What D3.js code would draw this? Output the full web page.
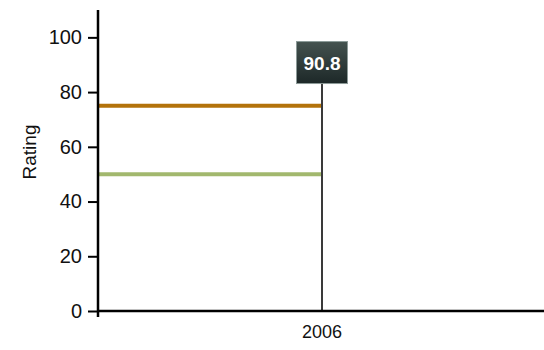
<!DOCTYPE html>
<html>
<head>
<meta charset="utf-8">
<script src="https://cdn.jsdelivr.net/npm/d3@7"></script>
<style>
  html, body { margin: 0; padding: 0; background: #fff; }
  svg { display: block; }
  svg text { font-family: "Liberation Sans", Arial, Helvetica, sans-serif; }
</style>
</head>
<body>
<svg id="chart" width="544" height="350"></svg>
<script>
// Chart data
const categories = ["2006"];
const ratingValues = [90.8];
const referenceLevels = [75, 50];
const referenceColors = ["#b3720a", "#a2b86e"];
const yTicks = [0, 20, 40, 60, 80, 100];
const yDomain = [0, 110];

const FONT = "Liberation Sans, Arial, Helvetica, sans-serif";
const svg = d3.select("#chart");
const margin = { left: 98, top: 10, right: -2, bottom: 39 };
const W = 544, H = 350;

const x = d3.scaleBand()
  .domain(categories)
  .range([margin.left, W - margin.right]);

const y = d3.scaleLinear()
  .domain(yDomain)
  .range([H - margin.bottom, margin.top]);

// Reference levels: horizontal lines from the axis to the category center
referenceLevels.forEach((v, i) => {
  svg.append("line")
    .attr("x1", x.range()[0])
    .attr("x2", x(categories[0]) + x.bandwidth() / 2)
    .attr("y1", y(v))
    .attr("y2", y(v))
    .attr("stroke", referenceColors[i])
    .attr("stroke-width", 4);
});

// Drop line from the value label to the baseline
categories.forEach((c, i) => {
  const cx = x(c) + x.bandwidth() / 2;
  svg.append("line")
    .attr("x1", cx).attr("x2", cx)
    .attr("y1", y(ratingValues[i]))
    .attr("y2", y(0))
    .attr("stroke", "#3a3a3a")
    .attr("stroke-width", 2);
});

// Axes
const yAxis = d3.axisLeft(y).tickValues(yTicks).tickSize(10).tickPadding(6).tickFormat(d3.format("d"));
const gy = svg.append("g")
  .attr("transform", `translate(${margin.left},0)`)
  .call(yAxis)
  .attr("font-family", FONT);
gy.select(".domain").remove();
gy.selectAll(".tick line").attr("stroke", "#000").attr("stroke-width", 2);
gy.selectAll(".tick text").attr("font-size", 20).attr("fill", "#111");

const xAxis = d3.axisBottom(x).tickSize(0).tickPadding(14);
const gx = svg.append("g")
  .attr("transform", `translate(0,${y(0)})`)
  .call(xAxis)
  .attr("font-family", FONT);
gx.select(".domain").remove();
gx.selectAll(".tick text").attr("font-size", 18).attr("fill", "#111");

// Axis lines
svg.append("line")
  .attr("x1", margin.left).attr("x2", margin.left)
  .attr("y1", margin.top).attr("y2", y(0) + 6)
  .attr("stroke", "#000").attr("stroke-width", 2.5);
svg.append("line")
  .attr("x1", margin.left - 1).attr("x2", W)
  .attr("y1", y(0)).attr("y2", y(0))
  .attr("stroke", "#000").attr("stroke-width", 2.5);

// Y axis title
svg.append("text")
  .attr("transform", `translate(36,152) rotate(-90)`)
  .attr("text-anchor", "middle")
  .attr("font-family", FONT)
  .attr("font-size", 19)
  .attr("fill", "#111")
  .text("Rating");

// Value label box
const defs = svg.append("defs");
const grad = defs.append("linearGradient")
  .attr("id", "labelGrad")
  .attr("x1", 0).attr("y1", 0).attr("x2", 0).attr("y2", 1);
grad.append("stop").attr("offset", "0%").attr("stop-color", "#44524f");
grad.append("stop").attr("offset", "100%").attr("stop-color", "#1d2828");

categories.forEach((c, i) => {
  const cx = x(c) + x.bandwidth() / 2;
  const cy = y(ratingValues[i]);
  const bw = 51, bh = 42;
  svg.append("rect")
    .attr("x", cx - bw / 2)
    .attr("y", cy - bh / 2)
    .attr("width", bw)
    .attr("height", bh)
    .attr("fill", "url(#labelGrad)")
    .attr("stroke", "#8c9a98")
    .attr("stroke-width", 1);
  svg.append("text")
    .attr("x", cx)
    .attr("y", cy + 7)
    .attr("text-anchor", "middle")
    .attr("font-family", FONT)
    .attr("font-size", 19)
    .attr("font-weight", "bold")
    .attr("fill", "#fff")
    .text(d3.format(".1f")(ratingValues[i]));
});
</script>
</body>
</html>
